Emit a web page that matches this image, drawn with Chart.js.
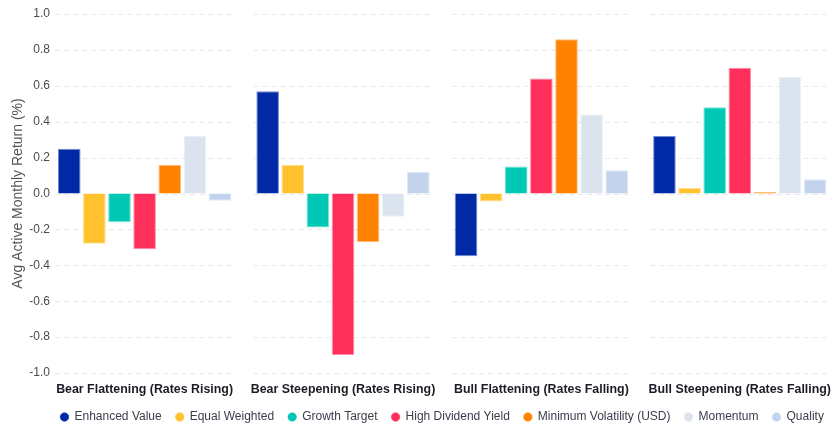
<!DOCTYPE html>
<html>
<head>
<meta charset="utf-8">
<script src="https://cdn.jsdelivr.net/npm/chart.js@4"></script>
<style>
  html, body { margin: 0; padding: 0; background: #fff; overflow: hidden; }
  #wrap { width: 840px; height: 433px; position: relative; }
</style>
</head>
<body>
<div id="wrap"><canvas id="chart"></canvas></div>
<script>
const regimes = [
  "Bear Flattening (Rates Rising)",
  "Bear Steepening (Rates Rising)",
  "Bull Flattening (Rates Falling)",
  "Bull Steepening (Rates Falling)"
]

const enhancedValue = [0.25, 0.57, -0.35, 0.32]
const equalWeighted = [-0.28, 0.16, -0.045, 0.03]
const growthTarget = [-0.16, -0.19, 0.15, 0.48]
const highDividendYield = [-0.31, -0.90, 0.64, 0.70]
const minimumVolatility = [0.16, -0.27, 0.86, 0.008]
const momentum = [0.32, -0.13, 0.44, 0.65]
const quality = [-0.04, 0.12, 0.13, 0.08]

const yTicks = [-1.0, -0.8, -0.6, -0.4, -0.2, 0.0, 0.2, 0.4, 0.6, 0.8, 1.0]

const series = [
  { label: "Enhanced Value", data: enhancedValue, color: "0, 41, 166" },
  { label: "Equal Weighted", data: equalWeighted, color: "255, 193, 45" },
  { label: "Growth Target", data: growthTarget, color: "0, 200, 180" },
  { label: "High Dividend Yield", data: highDividendYield, color: "255, 47, 91" },
  { label: "Minimum Volatility (USD)", data: minimumVolatility, color: "255, 131, 0" },
  { label: "Momentum", data: momentum, color: "219, 227, 238" },
  { label: "Quality", data: quality, color: "195, 211, 238" }
]

// dashed gridlines, broken into one segment per regime group
const groupGrid = {
  id: "groupGrid",
  beforeDatasetsDraw(chart) {
    const { ctx, scales: { x, y } } = chart
    const catW = x.width / regimes.length
    ctx.save()
    ctx.strokeStyle = "#e8e8e8"
    ctx.lineWidth = 1
    ctx.setLineDash([5, 4])
    yTicks.forEach(t => {
      const py = Math.round(y.getPixelForValue(t)) + 0.5
      regimes.forEach((r, i) => {
        const cx = x.getPixelForValue(i)
        ctx.beginPath()
        ctx.moveTo(cx - catW * 0.45, py)
        ctx.lineTo(cx + catW * 0.44, py)
        ctx.stroke()
      })
    })
    ctx.restore()
  }
}

new Chart(document.getElementById("chart"), {
  type: "bar",
  data: {
    labels: regimes,
    datasets: series.map(s => ({
      label: s.label,
      data: s.data,
      backgroundColor: "rgb(" + s.color + ")",
      borderColor: "rgba(" + s.color + ", 0.55)",
      borderWidth: 1,
      barPercentage: 0.9,
      categoryPercentage: 0.886
    }))
  },
  options: {
    responsive: true,
    maintainAspectRatio: false,
    animation: false,
    layout: { padding: { left: 7, top: 14, right: 0, bottom: 0 } },
    plugins: {
      legend: {
        position: "bottom",
        fullSize: false,
        labels: {
          usePointStyle: true,
          pointStyle: "circle",
          boxWidth: 8,
          boxHeight: 6,
          padding: 14,
          color: "#3b3d4a",
          font: { family: "Liberation Sans, Arial, sans-serif", size: 12 }
        }
      },
      tooltip: { enabled: false }
    },
    scales: {
      x: {
        afterFit(scale) { scale.height = 24 },
        grid: { display: false, drawTicks: false },
        border: { display: false },
        ticks: {
          padding: 9,
          color: "#1c1c24",
          font: { family: "Liberation Sans, Arial, sans-serif", size: 12.4, weight: "bold" }
        }
      },
      y: {
        min: -1,
        max: 1,
        afterFit(scale) {
          scale.width = 38.4
          // let tick labels run a few px past the axis box, like the original
          scale._computeLabelArea = () => null
        },
        afterBuildTicks(scale) { scale.ticks = yTicks.map(v => ({ value: v })) },
        grid: { display: false, drawTicks: false },
        border: { display: false },
        title: {
          display: true,
          text: "Avg Active Monthly Return (%)",
          color: "#555",
          padding: 3,
          font: { family: "Liberation Sans, Arial, sans-serif", size: 14 }
        },
        ticks: {
          padding: -4.6,
          color: "#4a4a52",
          font: { family: "Liberation Sans, Arial, sans-serif", size: 12 },
          callback: v => v.toFixed(1)
        }
      }
    }
  },
  plugins: [groupGrid]
})
</script>
</body>
</html>
